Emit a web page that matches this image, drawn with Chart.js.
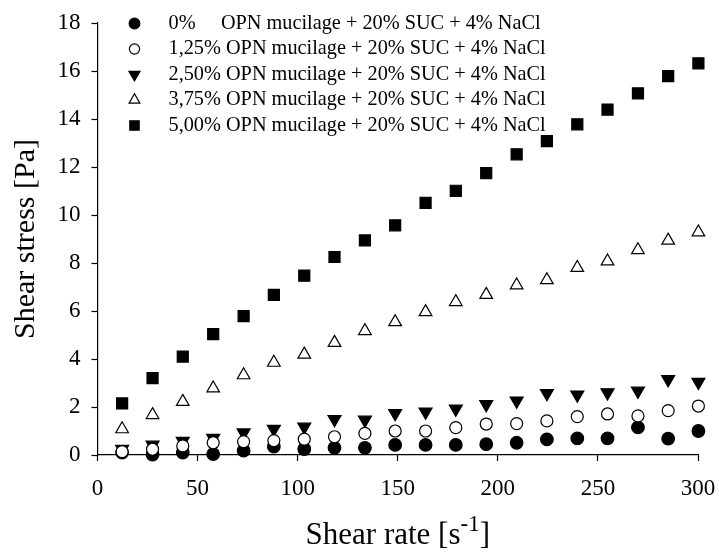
<!DOCTYPE html>
<html>
<head>
<meta charset="utf-8">
<script src="https://cdn.jsdelivr.net/npm/chart.js@4"></script>
<style>
  html, body { margin: 0; padding: 0; background: #fff; }
  #box { width: 719px; height: 558px; }
</style>
</head>
<body>
<div id="box"><canvas id="flowChart"></canvas></div>
<script>
// shear rate [1/s]
const shearRate = [12.3, 27.5, 42.6, 57.8, 73.0, 88.1, 103.3, 118.4, 133.6, 148.7,
                   163.9, 179.0, 194.2, 209.4, 224.5, 239.7, 254.8, 270.0, 285.1, 300.2];

// shear stress [Pa] per mucilage concentration
const stress000 = [0.10, 0.02, 0.10, 0.04, 0.18, 0.35, 0.25, 0.30, 0.30, 0.42,
                   0.42, 0.42, 0.45, 0.51, 0.65, 0.69, 0.69, 1.15, 0.68, 1.00];
const stress125 = [0.14, 0.24, 0.38, 0.51, 0.56, 0.60, 0.66, 0.76, 0.90, 1.00,
                   1.00, 1.14, 1.29, 1.31, 1.42, 1.60, 1.71, 1.63, 1.85, 2.04];
const stress250 = [0.25, 0.42, 0.58, 0.70, 0.93, 1.08, 1.17, 1.49, 1.46, 1.74,
                   1.80, 1.92, 2.11, 2.26, 2.57, 2.51, 2.60, 2.67, 3.15, 3.04];
const stress375 = [1.08, 1.67, 2.22, 2.78, 3.33, 3.85, 4.19, 4.68, 5.17, 5.54,
                   5.96, 6.38, 6.68, 7.07, 7.29, 7.80, 8.07, 8.54, 8.94, 9.28];
const stress500 = [2.15, 3.20, 4.10, 5.04, 5.79, 6.67, 7.47, 8.25, 8.94, 9.57,
                   10.51, 11.01, 11.74, 12.53, 13.08, 13.78, 14.39, 15.07, 15.79, 16.32];

const seriesLabels = [
  '0%     OPN mucilage + 20% SUC + 4% NaCl',
  '1,25% OPN mucilage + 20% SUC + 4% NaCl',
  '2,50% OPN mucilage + 20% SUC + 4% NaCl',
  '3,75% OPN mucilage + 20% SUC + 4% NaCl',
  '5,00% OPN mucilage + 20% SUC + 4% NaCl'
];

const xTicks = [0, 50, 100, 150, 200, 250, 300];
const yTicks = [0, 2, 4, 6, 8, 10, 12, 14, 16, 18];

const FONT = '"Liberation Serif", "Times New Roman", serif';

function toPoints(ys) {
  return ys.map((y, i) => ({ x: shearRate[i], y: y }));
}

// legend sits inside the plot, top left
const plotLegend = {
  id: 'plotLegend',
  afterDatasetsDraw(chart) {
    const { ctx, chartArea } = chart;
    ctx.save();
    chart.data.datasets.forEach((ds, i) => {
      const y = chartArea.top + 0.5 + i * 25.5;
      ctx.fillStyle = ds.backgroundColor;
      ctx.strokeStyle = ds.borderColor;
      ctx.lineWidth = ds.borderWidth;
      Chart.helpers.drawPoint(ctx, {
        pointStyle: ds.pointStyle,
        rotation: ds.rotation || 0,
        radius: ds.pointRadius * 0.85,
        borderWidth: ds.borderWidth
      }, chartArea.left + 37, y);
      ctx.fillStyle = '#000';
      ctx.font = '20.3px ' + FONT;
      ctx.textBaseline = 'middle';
      ctx.textAlign = 'left';
      ctx.fillText(ds.label, chartArea.left + 71, y);
    });
    ctx.restore();
  }
};

// x axis title with a real superscript
const rateTitle = {
  id: 'rateTitle',
  afterDraw(chart) {
    const { ctx, chartArea } = chart;
    const main = 'Shear rate [s', sup = '-1', tail = ']';
    ctx.save();
    ctx.fillStyle = '#000';
    ctx.textBaseline = 'alphabetic';
    ctx.textAlign = 'left';
    ctx.font = '31px ' + FONT;
    const wMain = ctx.measureText(main).width;
    const wTail = ctx.measureText(tail).width;
    ctx.font = '23px ' + FONT;
    const wSup = ctx.measureText(sup).width;
    const cx = (chartArea.left + chartArea.right) / 2;
    let x = cx - (wMain + wSup + wTail) / 2;
    const base = 544;
    ctx.font = '31px ' + FONT;
    ctx.fillText(main, x, base);
    x += wMain;
    ctx.font = '23px ' + FONT;
    ctx.fillText(sup, x, base - 13);
    x += wSup;
    ctx.font = '31px ' + FONT;
    ctx.fillText(tail, x, base);
    ctx.restore();
  }
};

const common = {
  backgroundColor: '#000',
  borderColor: '#000',
  borderWidth: 1.2,
  showLine: false,
  clip: false
};

// higher order is drawn first: filled circles at the bottom, open circles on top
const chart = new Chart(document.getElementById('flowChart'), {
  type: 'scatter',
  data: {
    datasets: [
      { ...common, label: seriesLabels[0], data: toPoints(stress000), pointStyle: 'circle', pointRadius: 6.3, order: 5 },
      { ...common, label: seriesLabels[1], data: toPoints(stress125), pointStyle: 'circle', pointRadius: 6, backgroundColor: '#fff', order: 1 },
      { ...common, label: seriesLabels[2], data: toPoints(stress250), pointStyle: 'triangle', rotation: 180, pointRadius: 7.5, order: 2 },
      { ...common, label: seriesLabels[3], data: toPoints(stress375), pointStyle: 'triangle', pointRadius: 7.3, backgroundColor: '#fff', order: 3 },
      { ...common, label: seriesLabels[4], data: toPoints(stress500), pointStyle: 'rect', pointRadius: 7.8, order: 4 }
    ]
  },
  options: {
    responsive: true,
    maintainAspectRatio: false,
    animation: false,
    events: [],
    layout: {
      padding: { left: 0, right: 21, top: 23, bottom: 0 }
    },
    plugins: {
      legend: { display: false },
      tooltip: { enabled: false }
    },
    scales: {
      x: {
        type: 'linear',
        min: 0,
        max: 300,
        afterFit: (scale) => {
          scale.height = 103;
          scale.paddingLeft = 0;
          scale.paddingRight = 0;
        },
        afterBuildTicks: (scale) => { scale.ticks = xTicks.map(v => ({ value: v })); },
        border: { display: true, color: '#000', width: 1.2 },
        grid: { drawOnChartArea: false, drawTicks: true, tickLength: 6, tickColor: '#000', tickWidth: 1.2 },
        ticks: { color: '#000', padding: 14, maxRotation: 0, font: { family: FONT, size: 23 } }
      },
      y: {
        type: 'linear',
        min: 0,
        max: 18,
        afterFit: (scale) => {
          scale.width = 97.5;
          scale.paddingTop = 0;
          scale.paddingBottom = 0;
        },
        afterBuildTicks: (scale) => { scale.ticks = yTicks.map(v => ({ value: v })); },
        border: { display: true, color: '#000', width: 1.2 },
        grid: { drawOnChartArea: false, drawTicks: true, tickLength: 6, tickColor: '#000', tickWidth: 1.2 },
        ticks: { color: '#000', padding: 11, font: { family: FONT, size: 23 } },
        title: {
          display: true,
          text: 'Shear stress [Pa]',
          color: '#000',
          padding: { top: 8, bottom: 0 },
          font: { family: FONT, size: 30, weight: 'normal' }
        }
      }
    }
  },
  plugins: [plotLegend, rateTitle]
});
</script>
</body>
</html>
